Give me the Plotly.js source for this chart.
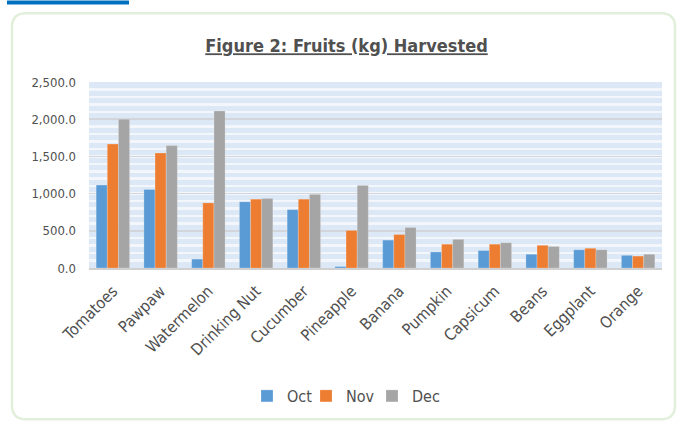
<!DOCTYPE html>
<html>
<head>
<meta charset="utf-8">
<script src="https://cdn.plot.ly/plotly-3.0.1.min.js"></script>
<style>
html,body{margin:0;padding:0;background:#fff;}
#chart{width:677px;height:423px;}
</style>
</head>
<body>
<div id="chart"></div>
<script>
const categories = ["Tomatoes","Pawpaw","Watermelon","Drinking Nut","Cucumber","Pineapple","Banana","Pumpkin","Capsicum","Beans","Eggplant","Orange"];
const octValues = [1115, 1055, 120, 890, 785, 20, 375, 215, 235, 185, 245, 170];
const novValues = [1665, 1545, 875, 925, 925, 505, 450, 320, 320, 305, 265, 160];
const decValues = [2000, 1645, 2110, 935, 990, 1110, 545, 385, 340, 290, 245, 185];
const seriesNames = ["Oct","Nov","Dec"];
const yTicks = [0, 500, 1000, 1500, 2000, 2500];

const FONT = "DejaVu Sans Condensed, sans-serif";
const TXT = "#505050";
const colors = ["#5b9bd5","#ed7d31","#a5a5a5"];
const seriesVals = [octValues, novValues, decValues];
const legendIds = ["legend","legend2","legend3"];

const traces = seriesNames.map((n,i)=>({
  type:"bar", name:n, x:categories, y:seriesVals[i], legend:legendIds[i],
  marker:{color:colors[i], line:{color:"rgba(255,255,255,0.35)", width:0.6}},
  hoverinfo:"x+y+name"
}));

// plot area 89..662 x, 82..269 y
const L=89, R=662, T=82, B=269;
const px = x => (x-L)/(R-L);
const py = y => (B-y)/(B-T);
const fx0=12, fx1=675, fy0=13, fy1=421, rr=14;
const framePath = `M ${px(fx0+rr)},${py(fy0)} L ${px(fx1-rr)},${py(fy0)} Q ${px(fx1)},${py(fy0)} ${px(fx1)},${py(fy0+rr)} `+
  `L ${px(fx1)},${py(fy1-rr)} Q ${px(fx1)},${py(fy1)} ${px(fx1-rr)},${py(fy1)} `+
  `L ${px(fx0+rr)},${py(fy1)} Q ${px(fx0)},${py(fy1)} ${px(fx0)},${py(fy1-rr)} `+
  `L ${px(fx0)},${py(fy0+rr)} Q ${px(fx0)},${py(fy0)} ${px(fx0+rr)},${py(fy0)} Z`;

function leg(xpx){
  return {orientation:"h", x:px(xpx), xanchor:"left", y:py(396), yanchor:"middle",
    font:{family:FONT, size:16, color:TXT}, itemwidth:30, bgcolor:"rgba(0,0,0,0)"};
}

const layout = {
  width:677, height:423,
  margin:{l:L, r:677-R, t:T, b:423-B},
  paper_bgcolor:"#ffffff",
  plot_bgcolor:"#dce8f5",
  barmode:"group", bargap:0.3, bargroupgap:0,
  title:{text:"<u>Figure 2: Fruits (kg) Harvested</u>", x:346.5/677, xanchor:"center", y:1-46/423, yanchor:"middle",
    font:{family:FONT, size:18, color:TXT, weight:"bold"}},
  xaxis:{type:"category", tickangle:-45, showgrid:false, showline:true, linecolor:"#d0d0d0", linewidth:1.5,
    ticks:"", ticklabelstandoff:6, tickfont:{family:FONT, size:16, color:TXT}, automargin:false, fixedrange:true},
  yaxis:{range:[0,2500], tickvals:yTicks, tickformat:",.1f", showgrid:true, gridcolor:"#d2d6dc", gridwidth:1.5,
    zeroline:false, showline:false, ticks:"", ticklabelstandoff:12, tickfont:{family:FONT, size:13, color:TXT},
    minor:{dtick:100, showgrid:true, gridcolor:"#f3f6fa", gridwidth:2.5},
    automargin:false, fixedrange:true},
  legend:leg(247),
  legend2:leg(306),
  legend3:leg(372),
  showlegend:true,
  shapes:[
    {type:"path", xref:"paper", yref:"paper", path:framePath, line:{color:"#e2efda", width:2.5}, fillcolor:"rgba(0,0,0,0)", layer:"below"},
    {type:"rect", xref:"paper", yref:"paper", x0:px(7), x1:px(129), y0:py(4), y1:py(0), line:{width:0}, fillcolor:"#0070c0"}
  ]
};

Plotly.newPlot("chart", traces, layout, {displayModeBar:false, staticPlot:true});
</script>
</body>
</html>
